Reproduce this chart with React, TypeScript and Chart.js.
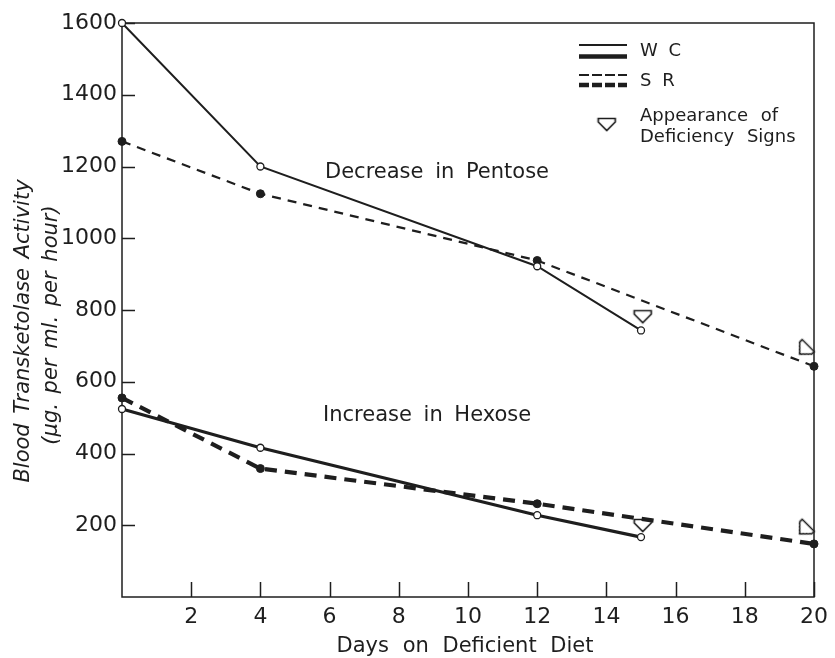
import React, { useEffect, useRef } from "react";
import { Chart, registerables } from "chart.js";

Chart.register(...registerables);

// Days on which each group was sampled
const wcDays = [0, 4, 12, 15];
const srDays = [0, 4, 12, 20];

// Blood transketolase activity, µg per ml per hour
const wcPentose = [1600, 1200, 922, 743];
const srPentose = [1270, 1124, 938, 643];
const wcHexose = [524, 416, 228, 167];
const srHexose = [555, 358, 260, 148];

// Arrows marking the appearance of deficiency signs (day, activity level, tilt in degrees)
const signDays = [15.05, 19.7, 15.05, 19.7];
const signLevels = [780, 688, 198, 187];
const signTilt = [0, 45, 0, 45];

// Axis ticks
const xTicks = [0, 2, 4, 6, 8, 10, 12, 14, 16, 18, 20];
const yTicks = [0, 200, 400, 600, 800, 1000, 1200, 1400, 1600];

const INK = "#1e1e1e";
const FONT = "'DejaVu Sans', sans-serif";

function pts(xs: number[], ys: number[]) {
  return xs.map((x, i) => ({ x, y: ys[i] }));
}

function makeArrow(): HTMLCanvasElement {
  const c = document.createElement("canvas");
  c.width = 26;
  c.height = 26;
  const g = c.getContext("2d")!;
  g.strokeStyle = INK;
  g.fillStyle = "#fff";
  g.lineWidth = 1.7;
  g.lineJoin = "miter";
  g.beginPath();
  g.moveTo(4.5, 6.5);
  g.lineTo(21.5, 6.5);
  g.lineTo(21.5, 10);
  g.lineTo(13, 18.5);
  g.lineTo(4.5, 10);
  g.closePath();
  g.fill();
  g.stroke();
  return c;
}

function text(
  ctx: CanvasRenderingContext2D,
  s: string,
  x: number,
  y: number,
  font: string,
  align: CanvasTextAlign,
  spacing = "0px"
) {
  ctx.font = font;
  ctx.textAlign = align;
  ctx.textBaseline = "middle";
  (ctx as any).wordSpacing = spacing;
  ctx.fillText(s, x, y);
}

export default function App() {
  const ref = useRef<HTMLCanvasElement | null>(null);

  useEffect(() => {
    document.body.style.margin = "0";
    const arrow = makeArrow();

    const decor = {
      id: "decor",
      beforeDatasetsDraw(chart: any) {
        const { ctx, chartArea, scales } = chart;
        const { left, top, right, bottom } = chartArea;
        ctx.save();
        ctx.strokeStyle = INK;
        ctx.lineWidth = 1.5;
        ctx.strokeRect(left, top, right - left, bottom - top);
        ctx.beginPath();
        yTicks.forEach((v) => {
          if (v === 0) return;
          const py = Math.round(scales.y.getPixelForValue(v)) + 0.5;
          ctx.moveTo(left, py);
          ctx.lineTo(left + 13, py);
        });
        xTicks.forEach((v) => {
          if (v === 0) return;
          const px = Math.round(scales.x.getPixelForValue(v)) + 0.5;
          ctx.moveTo(px, bottom);
          ctx.lineTo(px, bottom - 15);
        });
        ctx.stroke();
        ctx.restore();
      },
      afterDraw(chart: any) {
        const { ctx, chartArea } = chart;
        const { left, right } = chartArea;
        ctx.save();
        ctx.fillStyle = INK;

        // Axis titles
        text(ctx, "Days on Deficient Diet", (left + right) / 2 - 3, 647, `21px ${FONT}`, "center", "7px");
        ctx.save();
        ctx.translate(24, 331);
        ctx.rotate(-Math.PI / 2);
        text(ctx, "Blood Transketolase Activity", 0, 0, `italic 21px ${FONT}`, "center", "3px");
        ctx.restore();
        ctx.save();
        ctx.translate(52, 325);
        ctx.rotate(-Math.PI / 2);
        text(ctx, "(μg. per ml. per hour)", 0, 0, `italic 21px ${FONT}`, "center", "3px");
        ctx.restore();

        // Curve group labels
        text(ctx, "Decrease in Pentose", 325, 173, `21px ${FONT}`, "left", "5px");
        text(ctx, "Increase in Hexose", 323, 416, `21px ${FONT}`, "left", "5px");

        // Key
        ctx.strokeStyle = INK;
        const x0 = 579, x1 = 627;
        const seg = (y: number, w: number, dash: number[]) => {
          ctx.lineWidth = w;
          ctx.setLineDash(dash);
          ctx.beginPath();
          ctx.moveTo(x0, y);
          ctx.lineTo(x1, y);
          ctx.stroke();
        };
        seg(45, 2.2, []);
        seg(56.5, 4.5, []);
        seg(75, 2.2, [10, 3]);
        seg(85, 4.5, [10, 3]);
        ctx.setLineDash([]);
        text(ctx, "W C", 640, 51, `18px ${FONT}`, "left", "5px");
        text(ctx, "S R", 640, 81, `18px ${FONT}`, "left", "5px");
        ctx.drawImage(arrow, 606.7 - 13, 125 - 13);
        text(ctx, "Appearance of", 640, 116, `18px ${FONT}`, "left", "7px");
        text(ctx, "Deficiency Signs", 640, 137, `18px ${FONT}`, "left", "7px");
        ctx.restore();
      },
    };

    const open = {
      pointStyle: "circle",
      pointRadius: 3.5,
      pointBackgroundColor: "#fff",
      pointBorderColor: INK,
      pointBorderWidth: 1.3,
    };
    const solid = {
      pointStyle: "circle",
      pointRadius: 4,
      pointBackgroundColor: INK,
      pointBorderColor: INK,
      pointBorderWidth: 1,
    };

    const chart = new Chart(ref.current!, {
      type: "line",
      data: {
        datasets: [
          {
            label: "W C pentose",
            data: pts(wcDays, wcPentose),
            borderColor: INK,
            borderWidth: 2,
            ...open,
          },
          {
            label: "S R pentose",
            data: pts(srDays, srPentose),
            borderColor: INK,
            borderWidth: 2.2,
            borderDash: [9, 7],
            ...solid,
          },
          {
            label: "W C hexose",
            data: pts(wcDays, wcHexose),
            borderColor: INK,
            borderWidth: 3.2,
            ...open,
          },
          {
            label: "S R hexose",
            data: pts(srDays, srHexose),
            borderColor: INK,
            borderWidth: 4.2,
            borderDash: [12, 8],
            ...solid,
          },
          {
            label: "Appearance of Deficiency Signs",
            data: pts(signDays, signLevels),
            showLine: false,
            pointStyle: arrow as any,
            rotation: signTilt as any,
            pointRadius: 10,
          } as any,
        ] as any,
      },
      options: {
        responsive: false,
        devicePixelRatio: 1,
        animation: false,
        clip: false as any,
        layout: { padding: { top: 23, right: 17, left: 0, bottom: 0 } },
        plugins: {
          legend: { display: false },
          tooltip: { enabled: false },
        },
        scales: {
          x: {
            type: "linear",
            min: 0,
            max: 20,
            afterBuildTicks: (s: any) => {
              s.ticks = xTicks.map((value) => ({ value }));
            },
            afterFit: (s: any) => {
              s.height = 61;
            },
            grid: { display: false, drawTicks: false },
            border: { display: false },
            ticks: {
              padding: 7,
              color: INK,
              font: { family: FONT, size: 22 },
              maxRotation: 0,
              callback: (v: any) => (v === 0 ? "" : String(v)),
            },
          },
          y: {
            type: "linear",
            min: 0,
            max: 1600,
            afterBuildTicks: (s: any) => {
              s.ticks = yTicks.map((value) => ({ value }));
            },
            afterFit: (s: any) => {
              s.width = 122;
            },
            grid: { display: false, drawTicks: false },
            border: { display: false },
            ticks: {
              padding: 5,
              color: INK,
              font: { family: FONT, size: 22 },
              callback: (v: any) => (v === 0 ? "" : String(v)),
            },
          },
        },
      },
      plugins: [decor],
    });

    return () => chart.destroy();
  }, []);

  return (
    <div style={{ width: 835, height: 658, background: "#fff" }}>
      <canvas ref={ref} width={835} height={658} style={{ display: "block" }} />
    </div>
  );
}
